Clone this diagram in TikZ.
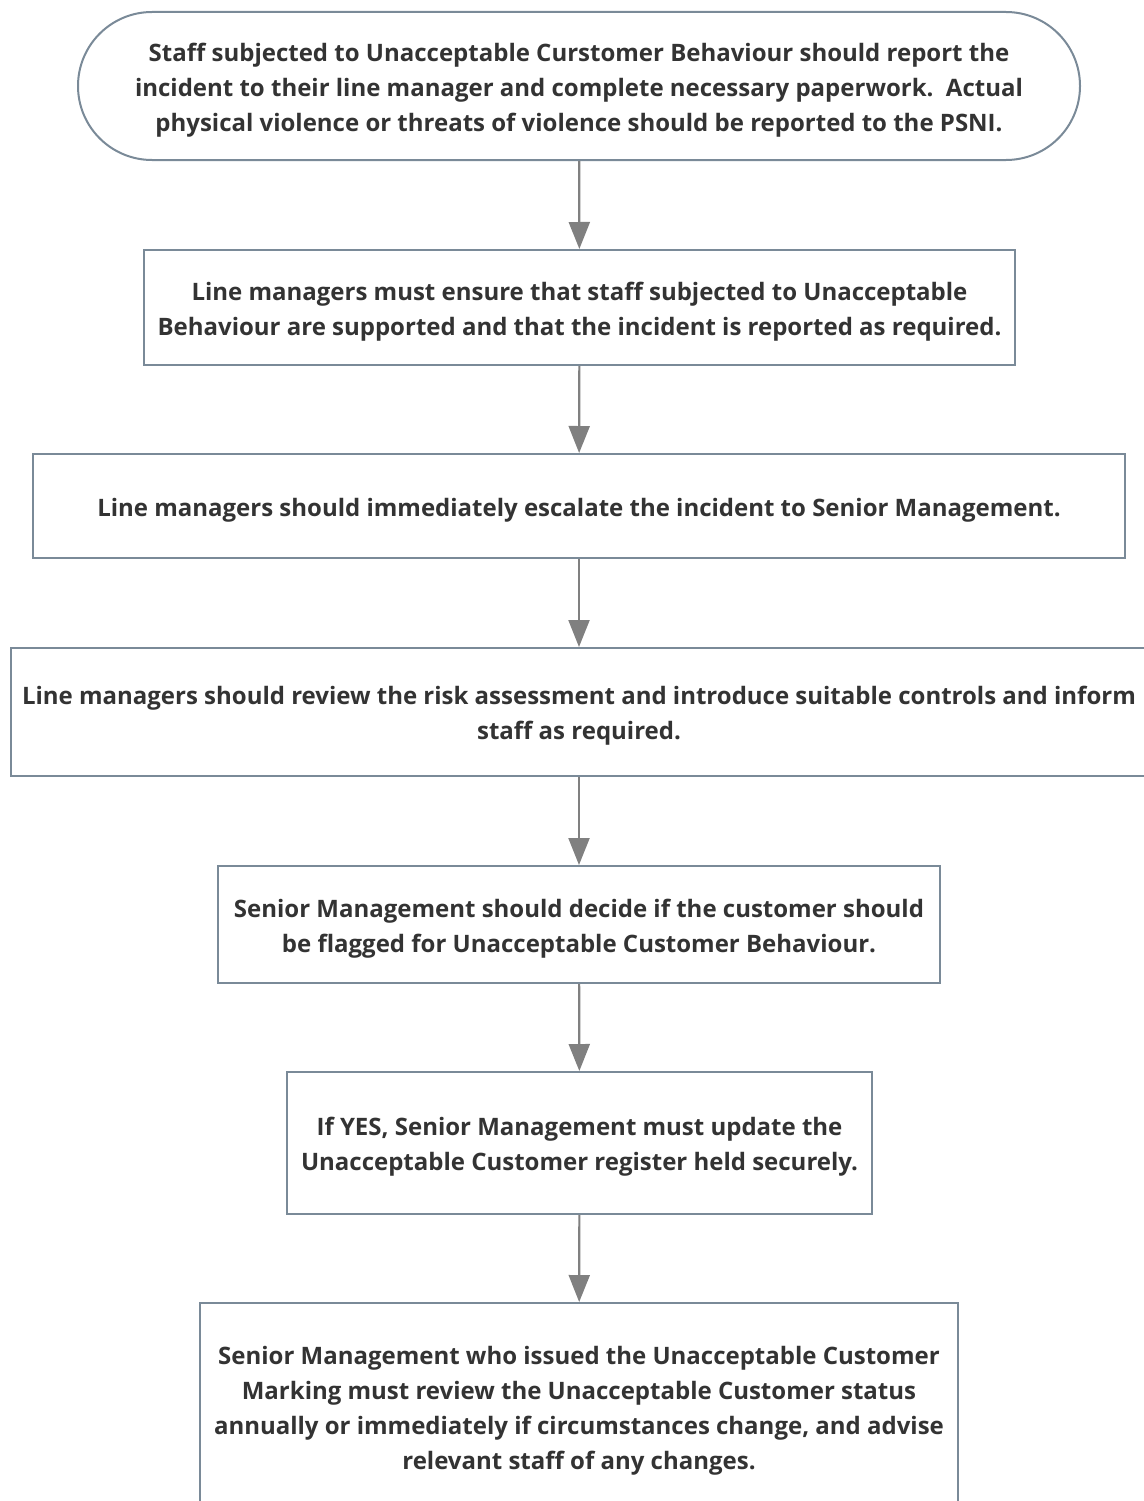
\documentclass[tikz,border=0pt]{standalone}
\usepackage{fontspec}
\setmainfont{Open Sans}
\usetikzlibrary{arrows.meta}
\definecolor{boxline}{RGB}{122,138,152}
\definecolor{arrowgray}{RGB}{128,128,128}
\definecolor{textgray}{RGB}{51,51,51}
\newcommand\boxstrut{\rule[-6pt]{0pt}{32pt}}
\begin{document}
\begin{tikzpicture}[x=1pt,y=-1pt,>={Triangle[width=21pt,length=27pt]},
    stepbox/.style={draw=boxline,line width=2pt,align=center,text=textgray,font=\bfseries\fontsize{24}{35}\selectfont,inner sep=0pt},
    flow/.style={->,draw=arrowgray,fill=arrowgray,line width=2.2pt}]
        \useasboundingbox (0,0) rectangle (1143,1501);
        \node[stepbox,rounded corners=74pt,minimum width=1002pt,minimum height=148pt] (start) at (579,86)
            {\boxstrut Staff subjected to Unacceptable Curstomer Behaviour should report the\\incident to their line manager and complete necessary paperwork.\ \ Actual\\physical violence or threats of violence should be reported to the PSNI.};
        \node[stepbox,minimum width=871pt,minimum height=115pt] (support) at (579.5,307.5)
            {\boxstrut Line managers must ensure that staff subjected to Unacceptable\\Behaviour are supported and that the incident is reported as required.};
        \node[stepbox,minimum width=1092pt,minimum height=104pt] (escalate) at (579,506)
            {\boxstrut Line managers should immediately escalate the incident to Senior Management.};
        \node[stepbox,minimum width=1136pt,minimum height=128pt] (review) at (579,712)
            {\boxstrut Line managers should review the risk assessment and introduce suitable controls and inform\\staff as required.};
        \node[stepbox,minimum width=722pt,minimum height=117pt] (decide) at (579,924.5)
            {\boxstrut Senior Management should decide if the customer should\\be flagged for Unacceptable Customer Behaviour.};
        \node[stepbox,minimum width=585pt,minimum height=142pt] (register) at (579.5,1143)
            {\boxstrut If YES, Senior Management must update the\\Unacceptable Customer register held securely.};
        \node[stepbox,minimum width=758pt,minimum height=207pt] (annual) at (579,1406.5)
            {\boxstrut Senior Management who issued the Unacceptable Customer\\Marking must review the Unacceptable Customer status\\annually or immediately if circumstances change, and advise\\relevant staff of any changes.};
        \draw[flow] (start)--(support);
        \draw[flow] (support)--(escalate);
        \draw[flow] (escalate)--(review);
        \draw[flow] (review)--(decide);
        \draw[flow] (decide)--(register);
        \draw[flow] (register)--(annual);
    \end{tikzpicture}
\end{document}
